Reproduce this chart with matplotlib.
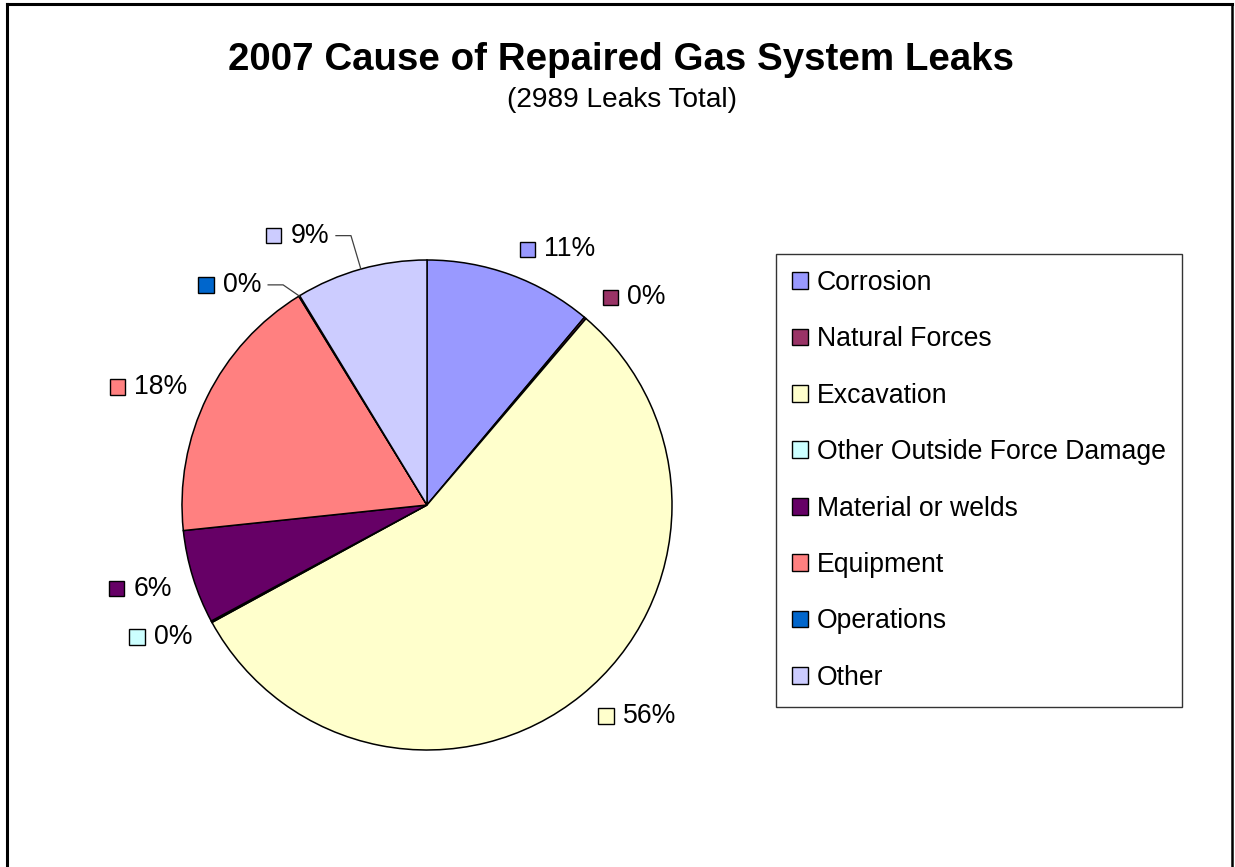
import matplotlib
matplotlib.use('Agg')
import matplotlib.pyplot as plt
import numpy as np
from matplotlib.patches import Patch, Rectangle
from matplotlib.lines import Line2D
from matplotlib.offsetbox import AnnotationBbox, HPacker, DrawingArea, TextArea

# ---- data ----
categories = ["Corrosion", "Natural Forces", "Excavation", "Other Outside Force Damage",
              "Material or welds", "Equipment", "Operations", "Other"]
leaks = [332, 4, 1668, 3, 185, 535, 2, 260]
colors = ["#9999FF", "#993366", "#FFFFCC", "#CCFFFF", "#660066", "#FF8080", "#0066CC", "#CCCCFF"]
title = "2007 Cause of Repaired Gas System Leaks"
subtitle = "(2989 Leaks Total)"

plt.rcParams['font.family'] = ['Liberation Sans', 'DejaVu Sans']

W, H = 1235, 867
fig = plt.figure(figsize=(W / 100, H / 100), dpi=100)
fig.patch.set_facecolor('white')

R = 245
cx, cy = 427, 505
ax = fig.add_axes([(cx - R) / W, 1 - (cy + R) / H, 2 * R / W, 2 * R / H])
wedges, _ = ax.pie(leaks, colors=colors, startangle=90, counterclock=False, radius=1,
                   wedgeprops=dict(edgecolor='black', linewidth=1.1))
ax.set_xlim(-1, 1)
ax.set_ylim(-1, 1)
ax.set_aspect('equal')
ax.axis('off')

total = sum(leaks)
fr = np.array(leaks) / total
cum = np.cumsum(fr)
mids = (cum - fr / 2) * 360.0  # clockwise from top

# crowded labels pushed aside (angle, radius), with leader lines
label_shift = {6: (323, 1.125), 7: (340, 1.17)}
FS = 19.2
px = 1.0 / R  # one pixel in data units

for i, v in enumerate(leaks):
    ang = mids[i]
    right = np.sin(np.radians(ang)) > 0
    r = 1.11 if right else 1.09
    shifted = i in label_shift
    if shifted:
        ang, r = label_shift[i]
    x = r * np.sin(np.radians(ang))
    y = r * np.cos(np.radians(ang))
    if not right and not shifted and y < 0:
        y -= 0.02
    pct = f"{round(v / total * 100):.0f}%"
    da = DrawingArea(11, 11, 0, 0)
    da.add_artist(Rectangle((0, 0), 11, 11, facecolor=colors[i], edgecolor='black', linewidth=1))
    ta = TextArea(pct, textprops=dict(fontsize=FS, color='black'))
    box = HPacker(children=[da, ta], align='center', pad=0, sep=6.5)
    ab = AnnotationBbox(box, (x, y), xycoords='data', frameon=False,
                        box_alignment=(0, 0.5) if right else (1, 0.5), annotation_clip=False)
    ax.add_artist(ab)
    if shifted:
        ex = np.sin(np.radians(mids[i]))
        ey = np.cos(np.radians(mids[i]))
        sx = x + 7 * px
        bx = sx + 15 * px
        ax.add_line(Line2D([sx, bx, ex], [y, y, ey], color='#404040', linewidth=0.9, clip_on=False))

# legend
handles = [Patch(facecolor=c, edgecolor='black', linewidth=1) for c in colors]
leg = fig.legend(handles, categories, loc='upper left', bbox_to_anchor=(776 / W, 1 - 254 / H),
                 bbox_transform=fig.transFigure, frameon=True, fancybox=False, edgecolor='black',
                 fontsize=FS, handlelength=0.6, handleheight=0.6, handletextpad=0.33,
                 labelspacing=1.14, borderpad=0.6, borderaxespad=0)
leg.get_frame().set_linewidth(1)

# titles
fig.text(621 / W, 1 - 60 / H, title, ha='center', va='center', fontsize=27.7, fontweight='bold')
fig.text(622 / W, 1 - 100 / H, subtitle, ha='center', va='center', fontsize=20.2)

# outer chart border (left, top, right)
fig.add_artist(Line2D([7 / W, 7 / W], [0, 1 - 4 / H], transform=fig.transFigure, color='black', linewidth=2.2))
fig.add_artist(Line2D([7 / W, 1232 / W], [1 - 4 / H, 1 - 4 / H], transform=fig.transFigure, color='black', linewidth=2.2))
fig.add_artist(Line2D([1232 / W, 1232 / W], [0, 1 - 4 / H], transform=fig.transFigure, color='black', linewidth=1.8))

fig.savefig('out.png', dpi=100, facecolor='white')
